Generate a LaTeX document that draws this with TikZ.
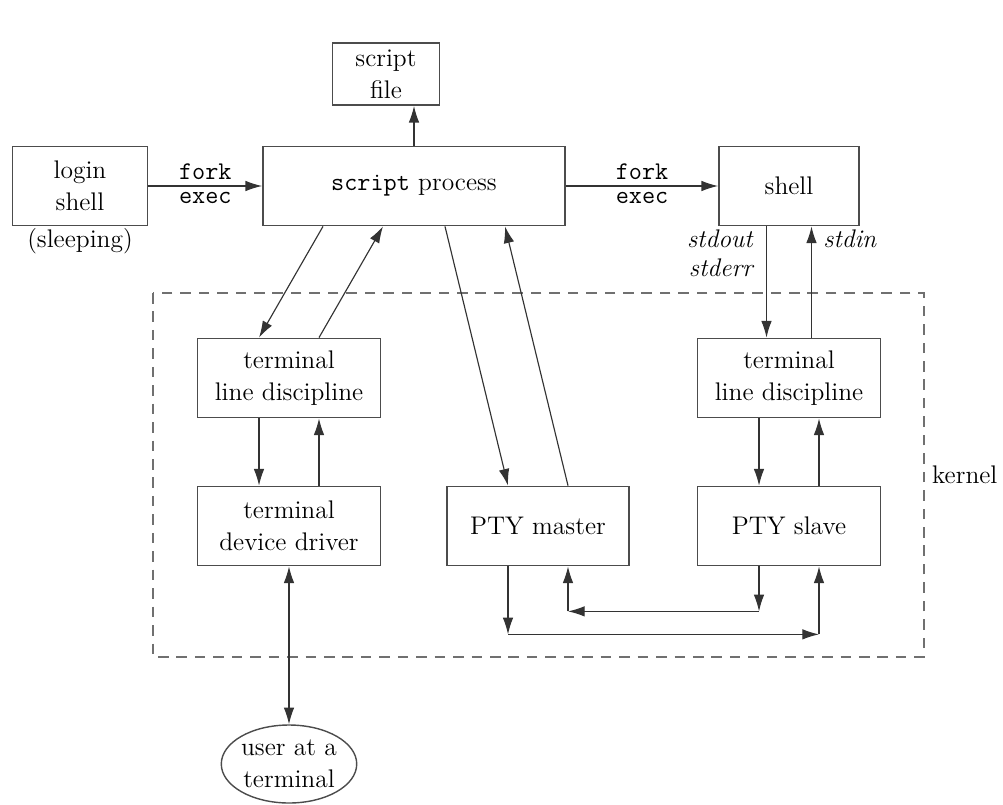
\documentclass[tikz,border=0pt]{standalone}
\usepackage{tikz}
\usetikzlibrary{arrows.meta,shapes.geometric}
\definecolor{boxGray}{gray}{0.3}
\definecolor{lineGray}{gray}{0.2}

\begin{document}
\begin{tikzpicture}[x=0.02cm,y=-0.02cm,
  >={Latex[length=9.5pt,width=6pt]},
  every node/.style={font=\fontsize{14.5}{18}\selectfont},
  blk/.style={draw=boxGray, line width=1pt, align=center, inner sep=0pt, minimum height=1.58cm},
  wire/.style={->, draw=lineGray, line width=0.65pt},
  tt/.style={font=\fontsize{14.5}{18}\selectfont\ttfamily},
  io/.style={font=\fontsize{14.5}{16.5}\selectfont\itshape, inner sep=2pt}]
  \useasboundingbox (0,0) rectangle (1003,804);
  % kernel region
  \draw[draw=boxGray!80, line width=0.8pt, dash pattern=on 6pt off 4.5pt] (153,293) rectangle (924,657);
  \node[anchor=west] (kernel) at (926,475) {kernel};
  % user level
  \node[blk, minimum width=2.14cm, minimum height=1.24cm] (file) at (386,74) {script\\file};
  \node[blk, minimum width=2.7cm] (login) at (80,186) {login\\shell};
  \node[anchor=north, inner sep=1pt] (sleep) at (login.south) {(sleeping)};
  \node[blk, minimum width=6.04cm] (sp) at (414,186) {\texttt{script} process};
  \node[blk, minimum width=2.8cm] (shell) at (789,186) {shell};
  \node[io, anchor=north east, align=right] (out) at ([xshift=-0.65cm]shell.south) {stdout\\stderr};
  \node[io, anchor=north west] (in) at ([xshift=0.61cm]shell.south) {stdin};
  % kernel boxes
  \node[blk, minimum width=3.66cm] (ltld) at (289,378) {terminal\\line discipline};
  \node[blk, minimum width=3.66cm] (rtld) at (789,378) {terminal\\line discipline};
  \node[blk, minimum width=3.66cm] (dd) at (289,526) {terminal\\device driver};
  \node[blk, minimum width=3.64cm] (master) at (538,526) {PTY master};
  \node[blk, minimum width=3.66cm] (slave) at (789,526) {PTY slave};
  \node[draw=boxGray, line width=0.8pt, ellipse, minimum width=2.7cm, minimum height=1.56cm, inner sep=0pt, align=center] (user) at (289,764) {user at a\\terminal};
  % connectors
  \draw[wire] (sp.north) -- (sp.north |- file.south);
  \draw[wire] (login) -- node[above, tt] {fork} node[below, tt] {exec} (sp);
  \draw[wire] (sp) -- node[above, tt] {fork} node[below, tt] {exec} (shell);
  \draw[wire] ([xshift=-1.82cm]sp.south) -- ([xshift=-0.6cm]ltld.north);
  \draw[wire] ([xshift=0.6cm]ltld.north) -- ([xshift=-0.62cm]sp.south);
  \draw[wire] ([xshift=0.62cm]sp.south) -- ([xshift=-0.6cm]master.north);
  \draw[wire] ([xshift=0.6cm]master.north) -- ([xshift=1.82cm]sp.south);
  \draw[wire] ([xshift=-0.6cm]ltld.south) -- ([xshift=-0.6cm]dd.north);
  \draw[wire] ([xshift=0.6cm]dd.north) -- ([xshift=0.6cm]ltld.south);
  \draw[wire] ([xshift=-0.45cm]shell.south) -- ([xshift=-0.45cm]rtld.north);
  \draw[wire] ([xshift=0.45cm]rtld.north) -- ([xshift=0.45cm]shell.south);
  \draw[wire] ([xshift=-0.6cm]rtld.south) -- ([xshift=-0.6cm]slave.north);
  \draw[wire] ([xshift=0.6cm]slave.north) -- ([xshift=0.6cm]rtld.south);
  \draw[wire, <->] (dd.south) -- (user.north);
  % master <-> slave
  \coordinate (sdn) at ([xshift=-0.6cm,yshift=-0.9cm]slave.south);
  \coordinate (mup) at ([xshift=0.6cm,yshift=-0.9cm]master.south);
  \coordinate (mdn) at ([xshift=-0.6cm,yshift=-1.36cm]master.south);
  \coordinate (slup) at ([xshift=0.6cm,yshift=-1.36cm]slave.south);
  \draw[wire] ([xshift=-0.6cm]slave.south) -- (sdn);
  \draw[wire] (sdn) -- (mup);
  \draw[wire] (mup) -- ([xshift=0.6cm]master.south);
  \draw[wire] ([xshift=-0.6cm]master.south) -- (mdn);
  \draw[wire] (mdn) -- (slup);
  \draw[wire] (slup) -- ([xshift=0.6cm]slave.south);
\end{tikzpicture}
\end{document}
